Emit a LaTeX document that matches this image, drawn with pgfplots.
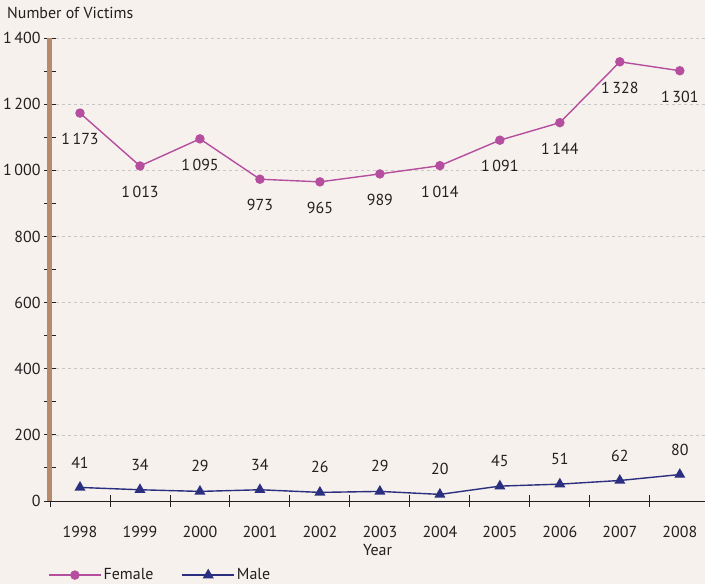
\documentclass[border=0pt]{standalone}
\usepackage{pgfplots}
\pgfplotsset{compat=1.18}
\usepackage{fontspec}
\setmainfont{PT Sans}
\definecolor{bg}{HTML}{F6F1EC}
\definecolor{brownax}{HTML}{B88A6C}
\definecolor{female}{HTML}{B54E9E}
\definecolor{male}{HTML}{2B2F7F}
\definecolor{txt}{HTML}{231F20}
\begin{document}
\begin{tikzpicture}[font=\fontsize{16}{19}\selectfont, text=txt]
\fill[bg] (-50bp,-83bp) rectangle (655bp,501bp);
\path[use as bounding box] (-50bp,-83bp) rectangle (655bp,501bp);
\begin{axis}[
 scale only axis, width=655bp, height=463bp,
 at={(0,0)}, anchor=south west,
 clip=false,
 xmin=-0.5, xmax=10.42, ymin=0, ymax=1400,
 axis x line=bottom, axis y line=left,
 axis line style={-},
 y axis line style={draw=brownax, line width=5bp},
 x axis line style={draw=txt, line width=0.9bp},
 ytick={0,200,...,1400}, minor ytick={100,300,...,1300},
 xtick={0,...,10}, xticklabels={1998,1999,2000,2001,2002,2003,2004,2005,2006,2007,2008},
 minor xtick={-0.5,0.5,...,9.5},
 major x tick style={draw=none},
 tick align=center,
 major tick length=12bp, minor tick length=12bp,
 every tick/.style={draw=txt, line width=0.9bp},
 ymajorgrids, grid style={dashed, black!22, line width=0.6bp},
 /pgf/number format/.cd, assume math mode=true, 1000 sep={\,},
 /pgfplots/.cd,
 xticklabel style={anchor=base, yshift=-30bp},
 yticklabel style={anchor=east, xshift=0bp},
 xlabel={Year},
 xlabel style={at={(axis description cs:0.5,0)}, anchor=center, yshift=-49bp},
 legend style={draw=none, fill=none, at={(axis description cs:-0.0076,-0.16)}, anchor=west,
   legend columns=2, /tikz/every even column/.append style={column sep=26bp},
   font=\fontsize{16}{19}\selectfont},
 legend image code/.code={\draw[mark repeat=2,mark phase=2] plot coordinates {(0bp,0bp)(26bp,0bp)(52bp,0bp)};},
]
\addplot[female, line width=1.4bp, mark=*, mark size=4bp,
  nodes near coords, nodes near coords style={anchor=center, yshift=-26bp, text=txt}]
  coordinates {(0,1173)(1,1013)(2,1095)(3,973)(4,965)(5,989)(6,1014)(7,1091)(8,1144)(9,1328)(10,1301)};
\addlegendentry{Female}
\addplot[male, line width=1.4bp, mark=triangle*, mark size=5bp,
  nodes near coords, nodes near coords style={anchor=center, yshift=25bp, text=txt}]
  coordinates {(0,41)(1,34)(2,29)(3,34)(4,26)(5,29)(6,20)(7,45)(8,51)(9,62)(10,80)};
\addlegendentry{Male}
\node[anchor=base west, inner sep=0pt] at (axis description cs:0,1) [xshift=-43bp, yshift=19bp] {Number of Victims};
\end{axis}
\end{tikzpicture}
\end{document}
